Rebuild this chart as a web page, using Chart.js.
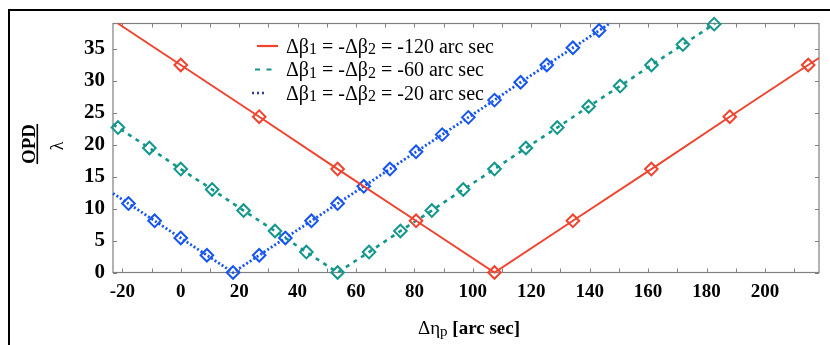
<!DOCTYPE html>
<html><head><meta charset="utf-8">
<script src="https://cdn.jsdelivr.net/npm/chart.js@4.4.1/dist/chart.umd.min.js"></script>
<style>html,body{margin:0;padding:0;background:#fff;overflow:hidden}#wrap{width:830px;height:345px;position:relative}</style>
</head><body><div id="wrap"><canvas id="c" width="830" height="345"></canvas></div>
<script>
// ---- data ----
const seriesValues = ['-120', '-60', '-20'];          // Δβ1 = -Δβ2 values (arc sec)
const xTickLabels = [-20, 0, 20, 40, 60, 80, 100, 120, 140, 160, 180, 200];
const yTickLabels = [0, 5, 10, 15, 20, 25, 30, 35];
const xRange = [-23.2, 218.5];
const yRange = [0, 39];
// first and last entries are where each line leaves the frame (no marker there)
const redX  = [-21.5, 0, 26.85, 53.7, 80.55, 107.4, 134.25, 161.1, 187.95, 214.8, 218.5];
const redY  = [39.0, 32.5, 24.4, 16.2, 8.1, 0, 8.1, 16.2, 24.4, 32.5, 33.6];
const tealX = [-23.2, -21.5, -10.75, 0, 10.75, 21.5, 32.25, 43, 53.7, 64.45, 75.2, 85.95, 96.7, 107.4, 118.15, 128.9, 139.65, 150.4, 161.15, 171.9, 182.6, 182.9];
const tealY = [23.2, 22.7, 19.5, 16.2, 13.0, 9.7, 6.5, 3.2, 0, 3.2, 6.5, 9.7, 13.0, 16.2, 19.5, 22.7, 26.0, 29.2, 32.5, 35.7, 38.9, 39.0];
const blueX = [-23.2, -17.9, -8.95, 0, 8.95, 17.9, 26.85, 35.8, 44.75, 53.7, 62.65, 71.6, 80.55, 89.5, 98.45, 107.4, 116.35, 125.3, 134.25, 143.2, 146.8];
const blueY = [12.4, 10.8, 8.1, 5.4, 2.7, 0, 2.7, 5.4, 8.1, 10.8, 13.5, 16.2, 18.9, 21.6, 24.3, 27.0, 29.8, 32.5, 35.2, 37.9, 39.0];

// ---- style ----
const SERIF = '"Liberation Serif", "Times New Roman", serif';
const COLORS = ['#f0442f', '#13978c', '#1655f0'];
const DASHES = [[], [4, 5], [2, 2.2]];
const WIDTHS = [2, 2.6, 2.8];

function pts(xs, ys) { return xs.map((x, i) => ({ x: x, y: ys[i] })); }
function ds(i, xs, ys) {
  return {
    label: 'Δβ1 = -Δβ2 = ' + seriesValues[i] + ' arc sec',
    data: pts(xs, ys),
    borderColor: COLORS[i],
    borderWidth: WIDTHS[i],
    borderDash: DASHES[i],
    backgroundColor: 'rgba(0,0,0,0)',
    pointStyle: 'rectRot',
    pointBorderColor: COLORS[i],
    pointBackgroundColor: 'rgba(0,0,0,0)',
    pointBorderWidth: 2,
    pointRadius: c => (c.dataIndex === 0 || c.dataIndex === c.dataset.data.length - 1) ? 0 : 6.3,
    tension: 0,
    clip: false,
    fill: false
  };
}

const framePlugin = {
  id: 'frame',
  beforeDatasetsDraw(chart) {
    const { ctx, chartArea: a, scales } = chart;
    ctx.save();
    ctx.strokeStyle = '#000';
    ctx.lineWidth = 2;
    ctx.strokeRect(9, 10, 900, 400);
    ctx.strokeStyle = '#808080';
    ctx.lineWidth = 1.2;
    ctx.strokeRect(a.left, a.top, a.right - a.left, a.bottom - a.top);
    ctx.lineWidth = 1;
    const L = 4;
    scales.x.ticks.forEach(t => {
      const px = Math.round(scales.x.getPixelForValue(t.value)) + 0.5;
      ctx.beginPath();
      ctx.moveTo(px, a.bottom); ctx.lineTo(px, a.bottom - L);
      ctx.moveTo(px, a.top); ctx.lineTo(px, a.top + L);
      ctx.stroke();
    });
    scales.y.ticks.forEach(t => {
      const py = Math.round(scales.y.getPixelForValue(t.value)) + 0.5;
      ctx.beginPath();
      ctx.moveTo(a.left, py); ctx.lineTo(a.left + L, py);
      ctx.moveTo(a.right, py); ctx.lineTo(a.right - L, py);
      ctx.stroke();
    });
    ctx.restore();
  }
};

const textPlugin = {
  id: 'texts',
  afterDraw(chart) {
    const ctx = chart.ctx;
    ctx.save();
    ctx.fillStyle = '#000';
    // y title: OPD / λ (rotated fraction)
    ctx.save();
    ctx.translate(35, 144);
    ctx.rotate(-Math.PI / 2);
    ctx.font = 'bold 19px ' + SERIF;
    ctx.textAlign = 'center';
    ctx.textBaseline = 'alphabetic';
    ctx.fillText('OPD', 0, 0);
    const w = ctx.measureText('OPD').width;
    ctx.fillRect(-w / 2, 1.5, w, 1.6);
    ctx.font = '18px ' + SERIF;
    ctx.fillText('λ', -2, 28);
    ctx.restore();

    // x title: Δηp [arc sec]
    const parts = [
      { t: 'Δη', f: '19px ' + SERIF, dy: 0 },
      { t: 'p', f: '15px ' + SERIF, dy: 2 },
      { t: ' [arc sec]', f: 'bold 19px ' + SERIF, dy: 0 }
    ];
    let total = 0;
    parts.forEach(p => { ctx.font = p.f; p.w = ctx.measureText(p.t).width; total += p.w; });
    let x = 469 - total / 2;
    ctx.textBaseline = 'alphabetic';
    ctx.textAlign = 'left';
    parts.forEach(p => { ctx.font = p.f; ctx.fillText(p.t, x, 334 + p.dy); x += p.w; });

    // legend
    const rowsY = [46, 69.5, 93];
    chart.data.datasets.forEach((d, i) => {
      const y = rowsY[i];
      ctx.strokeStyle = COLORS[i];
      ctx.lineWidth = 2.2;
      ctx.beginPath();
      if (i === 0) { ctx.moveTo(257, y); ctx.lineTo(278, y); }
      else if (i === 1) { ctx.setLineDash([5, 6.5]); ctx.moveTo(255, y); ctx.lineTo(273, y); }
      else { ctx.strokeStyle = '#2a3aa8'; ctx.lineWidth = 2.4; ctx.setLineDash([2, 3]); ctx.moveTo(252, y); ctx.lineTo(266, y); }
      ctx.stroke();
      ctx.setLineDash([]);
      const segs = [
        { t: 'Δβ', f: '20px ' + SERIF, dy: 0 },
        { t: '1', f: '16px ' + SERIF, dy: 1.5 },
        { t: ' = -Δβ', f: '20px ' + SERIF, dy: 0 },
        { t: '2', f: '16px ' + SERIF, dy: 1.5 },
        { t: ' = ' + seriesValues[i] + ' arc sec', f: '20px ' + SERIF, dy: 0 }
      ];
      let lx = 286;
      ctx.fillStyle = '#000';
      ctx.textBaseline = 'alphabetic';
      segs.forEach(s => { ctx.font = s.f; ctx.fillText(s.t, lx, y + 6.5 + s.dy); lx += ctx.measureText(s.t).width; });
    });
    ctx.restore();
  }
};

function build() {
  new Chart(document.getElementById('c'), {
    type: 'line',
    data: { datasets: [ds(0, redX, redY), ds(1, tealX, tealY), ds(2, blueX, blueY)] },
    options: {
      responsive: false,
      animation: false,
      layout: { padding: 0 },
      plugins: { legend: { display: false }, tooltip: { enabled: false } },
      scales: {
        x: {
          type: 'linear', position: 'bottom', min: xRange[0], max: xRange[1],
          grid: { display: false }, border: { display: false },
          ticks: {
            stepSize: 10, includeBounds: false, autoSkip: false, maxRotation: 0, padding: 0,
            color: '#000', font: { family: SERIF, size: 19, weight: 'bold' },
            callback: v => xTickLabels.includes(v) ? String(v) : ''
          },
          afterFit: s => { s.height = 72.5; }
        },
        xTop: {
          type: 'linear', position: 'top', min: xRange[0], max: xRange[1], display: true,
          grid: { display: false }, border: { display: false }, ticks: { display: false },
          afterFit: s => { s.height = 23.5; }
        },
        y: {
          type: 'linear', position: 'left', min: yRange[0], max: yRange[1],
          grid: { display: false }, border: { display: false },
          ticks: {
            stepSize: 5, includeBounds: false, padding: 0,
            color: '#000', font: { family: SERIF, size: 21, weight: 'bold' },
            callback: v => yTickLabels.includes(v) ? String(v) : ''
          },
          afterFit: s => { s.width = 113; }
        },
        yRight: {
          type: 'linear', position: 'right', min: yRange[0], max: yRange[1], display: true,
          grid: { display: false }, border: { display: false }, ticks: { display: false },
          afterFit: s => { s.width = 11; }
        }
      }
    },
    plugins: [framePlugin, textPlugin]
  });
}
Promise.all([
  document.fonts.load('18px "Liberation Serif"'),
  document.fonts.load('bold 18px "Liberation Serif"')
]).then(build, build);
</script>
</body></html>
